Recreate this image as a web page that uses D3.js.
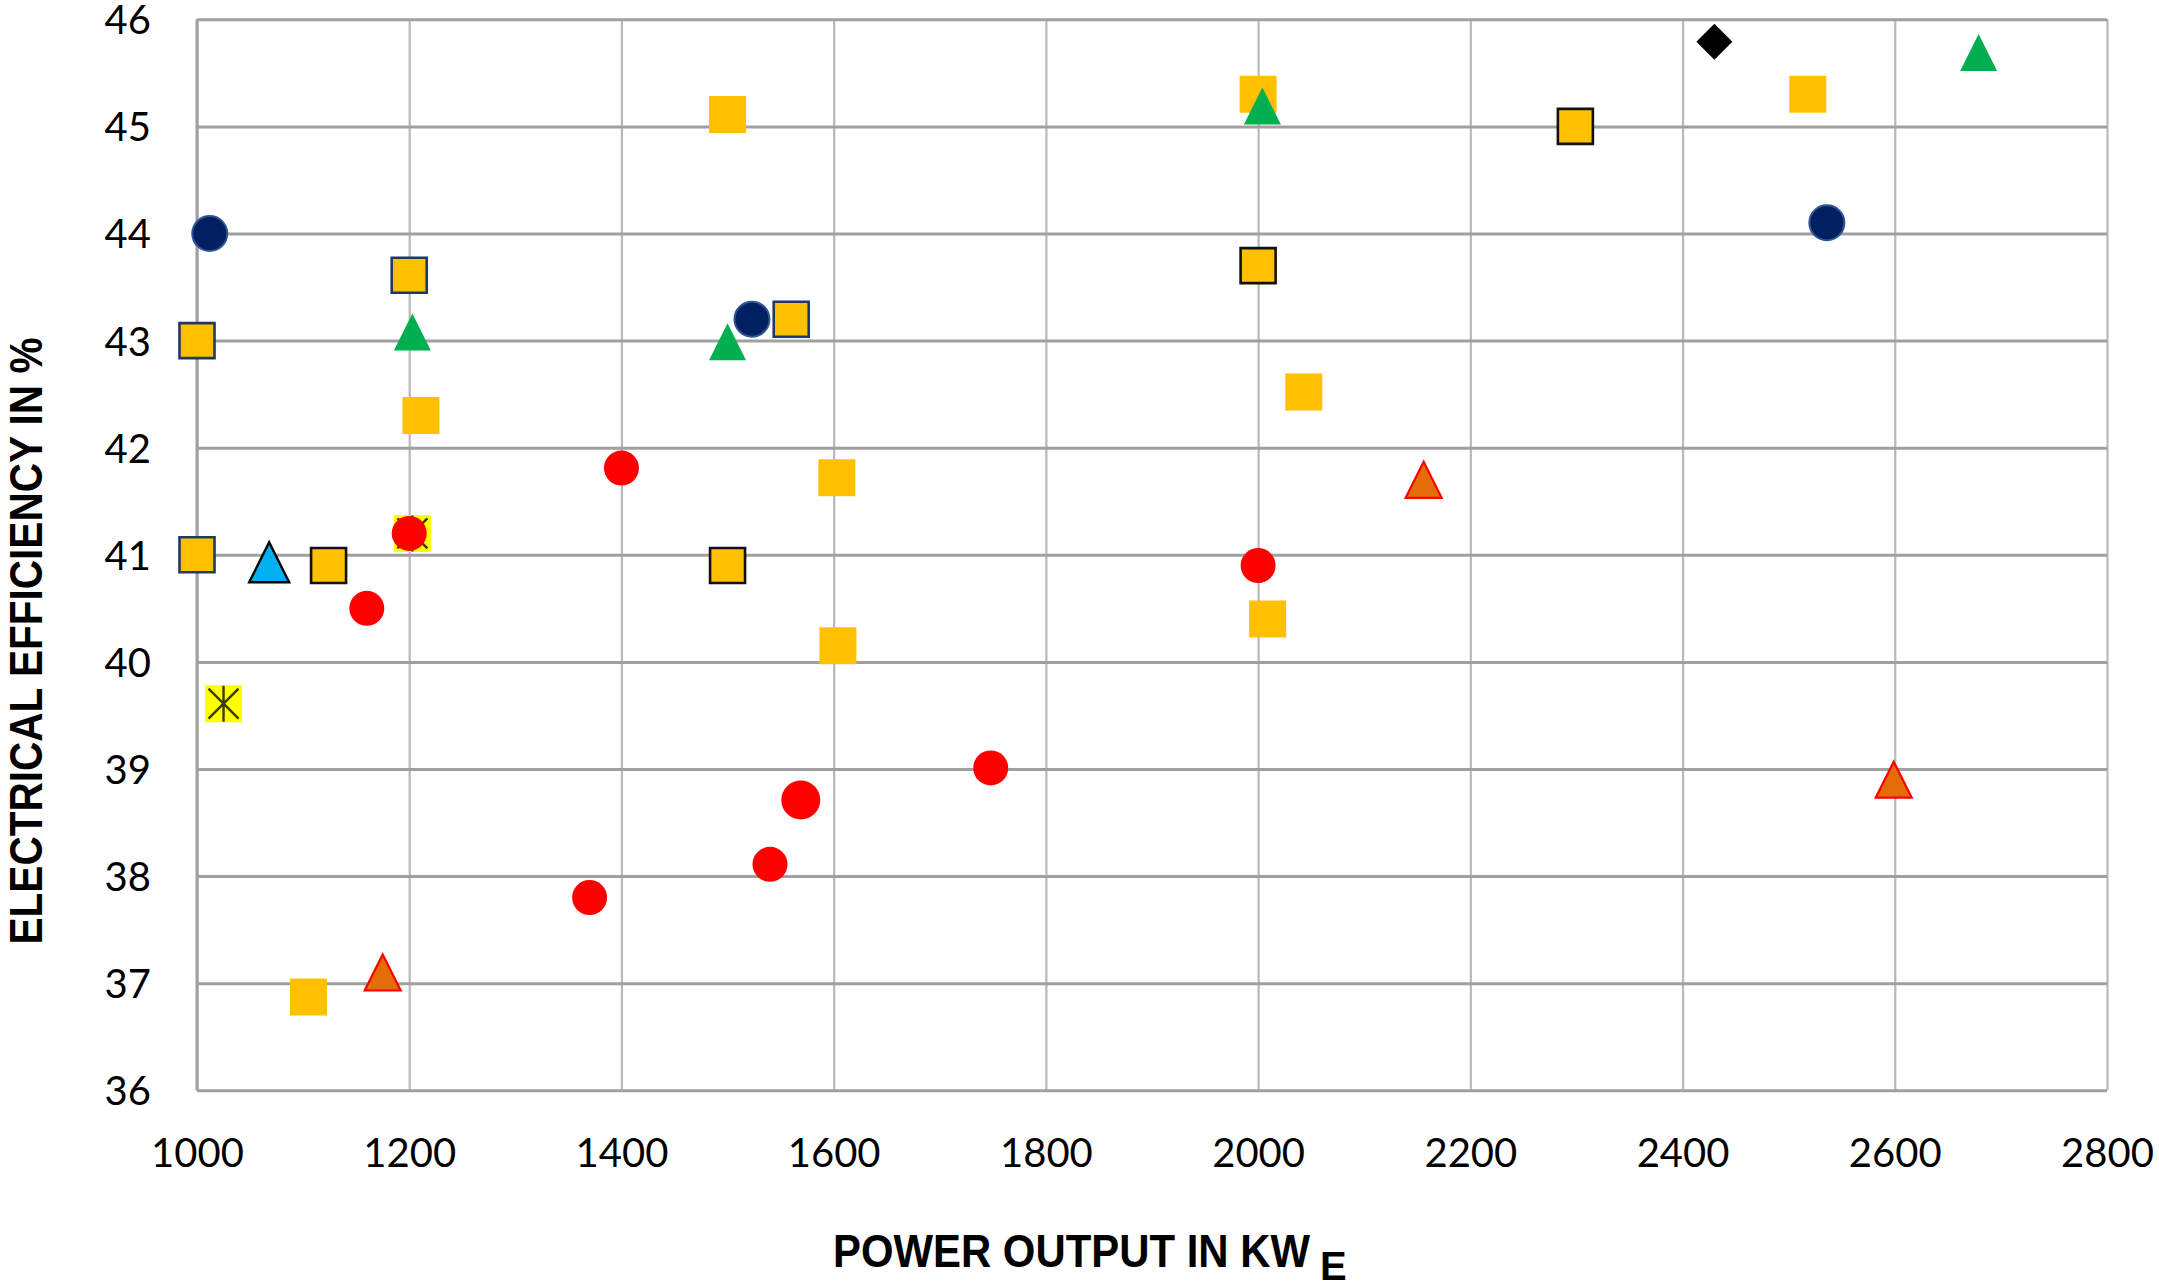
<!DOCTYPE html>
<html>
<head>
<meta charset="utf-8">
<script src="https://cdn.jsdelivr.net/npm/d3@7"></script>
<style>
  html, body { margin: 0; padding: 0; background: #fff; }
  svg { display: block; }
</style>
</head>
<body>
<svg id="chart" width="2159" height="1282"></svg>
<script>
// axis ticks
const xTicks = [1000, 1200, 1400, 1600, 1800, 2000, 2200, 2400, 2600, 2800];
const yTicks = [36, 37, 38, 39, 40, 41, 42, 43, 44, 45, 46];

// gold squares, no outline
const goldX = [1500, 2000, 2518, 1211, 2043, 1603, 1604, 2009, 1105];
const goldY = [45.11, 45.3, 45.3, 42.3, 42.52, 41.72, 40.15, 40.4, 36.87];

// gold squares with navy outline
const goldNavyX = [1000, 1200, 1560, 1000];
const goldNavyY = [43.0, 43.61, 43.2, 41.0];

// gold squares with black outline
const goldBlackX = [1124, 1500, 2000, 2299];
const goldBlackY = [40.9, 40.9, 43.7, 45.0];

// yellow squares with star
const starX = [1025, 1203];
const starY = [39.61, 41.2];

// green triangles
const greenX = [1203, 1500, 2004, 2679];
const greenY = [43.08, 42.99, 45.19, 45.69];

// orange triangles with red outline
const orangeX = [2156, 2599, 1175];
const orangeY = [41.7, 38.9, 37.1];

// light blue triangle
const blueX = [1068];
const blueY = [40.93];

// navy circles
const navyX = [1012, 1523, 2536];
const navyY = [44.0, 43.2, 44.1];

// red circles
const redX = [1200, 1400, 1160, 2000, 1370, 1540, 1569, 1748];
const redY = [41.2, 41.81, 40.5, 40.9, 37.8, 38.11, 38.71, 39.01];
const redBig = [false, false, false, false, false, false, true, false];

// black diamond
const diamondX = [2430];
const diamondY = [45.79];

const margin = {top: 19.3, left: 197};
const width = 1910;
const height = 1071;

const svg = d3.select("#chart");
const g = svg.append("g").attr("transform", `translate(${margin.left},${margin.top})`);

const x = d3.scaleLinear().domain([1000, 2800]).range([0, width]);
const y = d3.scaleLinear().domain([36, 46]).range([height, 0]);

// vertical grid
g.append("g")
    .attr("class", "xgrid")
    .attr("transform", `translate(0,${height})`)
    .call(d3.axisBottom(x).tickValues(xTicks).tickSize(-height).tickFormat(""))
    .call(a => a.select(".domain").remove())
    .call(a => a.selectAll("line").attr("stroke", "#b8b8b8").attr("stroke-width", 2.2));

// horizontal grid
g.append("g")
    .attr("class", "ygrid")
    .call(d3.axisLeft(y).tickValues(yTicks).tickSize(-width).tickFormat(""))
    .call(a => a.select(".domain").remove())
    .call(a => a.selectAll("line").attr("stroke", "#a0a0a0").attr("stroke-width", 3));

// left border line
g.append("line")
    .attr("x1", x(1000)).attr("x2", x(1000))
    .attr("y1", y(46)).attr("y2", y(36))
    .attr("stroke", "#a0a0a0").attr("stroke-width", 3);

// tick labels
g.append("g")
    .attr("transform", `translate(0,${height})`)
    .call(d3.axisBottom(x).tickValues(xTicks).tickSize(0).tickPadding(0).tickFormat(d3.format("d")))
    .call(a => a.select(".domain").remove())
    .call(a => a.selectAll("text")
        .attr("y", 77).attr("dy", 0)
        .attr("fill", "#000")
        .style("font-family", "Lato, 'Open Sans', sans-serif")
        .style("font-size", "40px"));

g.append("g")
    .call(d3.axisLeft(y).tickValues(yTicks).tickSize(0).tickPadding(46).tickFormat(d3.format("d")))
    .call(a => a.select(".domain").remove())
    .call(a => a.selectAll("text")
        .attr("dy", "0.36em")
        .attr("fill", "#000")
        .style("font-family", "Lato, 'Open Sans', sans-serif")
        .style("font-size", "40px"));

// marker shapes, size is side length squared
const squareType = {
    draw(ctx, size) {
        const s = Math.sqrt(size) / 2;
        ctx.rect(-s, -s, 2 * s, 2 * s);
    }
};
const triangleType = {
    draw(ctx, size) {
        const s = Math.sqrt(size) / 2;
        ctx.moveTo(0, -s);
        ctx.lineTo(s, s);
        ctx.lineTo(-s, s);
        ctx.closePath();
    }
};
const diamondType = {
    draw(ctx, size) {
        const s = Math.sqrt(size) / 2;
        ctx.moveTo(0, -s);
        ctx.lineTo(s, 0);
        ctx.lineTo(0, s);
        ctx.lineTo(-s, 0);
        ctx.closePath();
    }
};

function zip(xs, ys) {
    return xs.map((v, i) => ({x: v, y: ys[i], i: i}));
}

function drawSeries(xs, ys, type, side, fill, stroke, strokeWidth) {
    g.append("g").selectAll("path")
        .data(zip(xs, ys))
        .enter().append("path")
        .attr("transform", d => `translate(${x(d.x)},${y(d.y)})`)
        .attr("d", d3.symbol().type(type).size(typeof side === "function" ? (d => side(d)) : side))
        .attr("fill", fill)
        .attr("stroke", stroke || "none")
        .attr("stroke-width", strokeWidth || 0);
}

// squares
drawSeries(goldX, goldY, squareType, 37 * 37, "#FFC000");
drawSeries(goldNavyX, goldNavyY, squareType, 35 * 35, "#FFC000", "#1F3864", 2.6);
drawSeries(goldBlackX, goldBlackY, squareType, 35 * 35, "#FFC000", "#111", 2.6);

// star squares
const starG = g.append("g").selectAll("g")
    .data(zip(starX, starY))
    .enter().append("g")
    .attr("transform", d => `translate(${x(d.x)},${y(d.y)})`);
starG.append("path")
    .attr("d", d3.symbol().type(squareType).size(37 * 37))
    .attr("fill", "#FFFF00");
starG.append("path")
    .attr("d", "M-15,-15L15,15M15,-15L-15,15M0,-18L0,18")
    .attr("stroke", "#3a3a00")
    .attr("stroke-width", 2.4);

// triangles
drawSeries(greenX, greenY, triangleType, 37 * 37, "#00B050");
drawSeries(orangeX, orangeY, triangleType, 36 * 36, "#E46C0A", "#FF0000", 2.2);
drawSeries(blueX, blueY, triangleType, 40 * 40, "#00B0F0", "#000", 2.4);

// circles
drawSeries(navyX, navyY, d3.symbolCircle, Math.PI * 17.5 * 17.5, "#002060", "#2F5597", 2);
drawSeries(redX, redY, d3.symbolCircle, d => redBig[d.i] ? Math.PI * 19.5 * 19.5 : Math.PI * 17.5 * 17.5, "#FF0000");

// diamond
drawSeries(diamondX, diamondY, diamondType, 36 * 36, "#000");

// axis titles
const titleFont = "'Liberation Sans', Arial, sans-serif";
svg.append("text")
    .attr("x", 833)
    .attr("y", 1267)
    .attr("textLength", 477)
    .attr("lengthAdjust", "spacingAndGlyphs")
    .attr("fill", "#000")
    .style("font-family", titleFont)
    .style("font-weight", "bold")
    .style("font-size", "46px")
    .text("POWER OUTPUT IN KW");
svg.append("text")
    .attr("x", 1320)
    .attr("y", 1280)
    .attr("fill", "#000")
    .style("font-family", titleFont)
    .style("font-weight", "bold")
    .style("font-size", "40px")
    .text("E");

svg.append("text")
    .attr("transform", "translate(42,641) rotate(-90)")
    .attr("text-anchor", "middle")
    .attr("textLength", 607)
    .attr("lengthAdjust", "spacingAndGlyphs")
    .attr("fill", "#000")
    .style("font-family", titleFont)
    .style("font-weight", "bold")
    .style("font-size", "46px")
    .text("ELECTRICAL EFFICIENCY IN %");
</script>
</body>
</html>
